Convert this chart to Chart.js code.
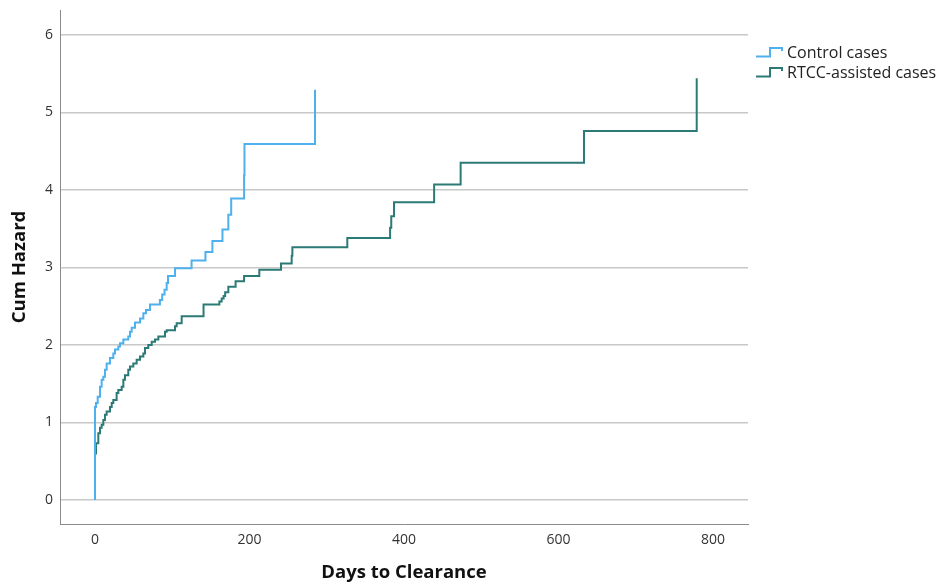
<!DOCTYPE html>
<html><head><meta charset="utf-8">
<script src="https://cdn.jsdelivr.net/npm/chart.js@4/dist/chart.umd.min.js"></script>
<style>
html,body{margin:0;padding:0;background:#fff;}
#wrap{position:relative;width:947px;height:584px;}
#legend{position:absolute;left:755px;top:42px;font-family:'Open Sans',sans-serif;font-size:16px;color:#222;}
.item{display:flex;align-items:center;height:20px;white-space:nowrap;}
.item svg{margin-right:3px;}
</style></head><body>
<div id="wrap"><canvas id="c" width="947" height="584"></canvas><div id="legend"></div></div>
<script>
const seriesNames = ['Control cases', 'RTCC-assisted cases'];
const seriesColors = ['#4eb1ee', '#2b7a75'];
const controlDays = [0, 0, 1.3, 3.5, 6.5, 8.6, 10.8, 12.9, 15.1, 19.4, 23.7, 25.9, 30.2, 32.4, 36.7, 43.1, 45.3, 47.5, 51.8, 58.3, 62.6, 66, 71.2, 84, 87, 90, 92.8, 94.5, 103.6, 125, 143, 152, 165, 172.6, 176.3, 193, 193.5, 284.8];
const controlHazard = [0, 1.20, 1.25, 1.33, 1.46, 1.55, 1.59, 1.68, 1.76, 1.83, 1.89, 1.94, 1.98, 2.02, 2.07, 2.11, 2.17, 2.22, 2.29, 2.34, 2.41, 2.45, 2.52, 2.58, 2.65, 2.71, 2.80, 2.89, 2.99, 3.09, 3.20, 3.34, 3.49, 3.68, 3.89, 4.19, 4.59, 5.29];
const rtccDays = [0, 0, 1.3, 4.3, 6.5, 8.6, 10.8, 12.9, 15.1, 19.4, 21.6, 23.7, 28.0, 30.2, 34.5, 36.7, 38.8, 43.1, 45.3, 49.6, 53.9, 58.3, 62.6, 64.7, 69.0, 73.4, 77.7, 82.0, 90.6, 92.8, 103.6, 105.7, 112.2, 140.5, 161, 164, 166.5, 168.5, 172.6, 182, 193, 212.7, 240.8, 254.6, 255.5, 326.6, 382, 383.5, 387.1, 439, 473.3, 633, 778.9];
const rtccHazard = [0, 0.60, 0.73, 0.86, 0.93, 0.97, 1.03, 1.10, 1.14, 1.20, 1.25, 1.29, 1.38, 1.42, 1.46, 1.55, 1.61, 1.68, 1.72, 1.76, 1.81, 1.85, 1.89, 1.96, 2.00, 2.04, 2.07, 2.11, 2.17, 2.19, 2.24, 2.28, 2.37, 2.52, 2.56, 2.60, 2.63, 2.68, 2.75, 2.82, 2.89, 2.97, 3.05, 3.15, 3.26, 3.38, 3.51, 3.66, 3.84, 4.07, 4.35, 4.76, 5.44];
const xTicks = [0, 200, 400, 600, 800];
const yTicks = [0, 1, 2, 3, 4, 5, 6];

const toPoints = (xs, ys) => xs.map((x, i) => ({x: x, y: ys[i]}));

const legendEl = document.getElementById('legend');
seriesNames.forEach((name, i) => {
  const d = document.createElement('div');
  d.className = 'item';
  d.innerHTML = '<svg width="29" height="12"><path d="M1 10.5 H15 V2 H27 V5" fill="none" stroke="' + seriesColors[i] + '" stroke-width="2"/></svg>';
  const s = document.createElement('span');
  s.textContent = name;
  d.appendChild(s);
  legendEl.appendChild(d);
});

new Chart(document.getElementById('c'), {
  type: 'line',
  data: {
    datasets: [
      {label: seriesNames[0], data: toPoints(controlDays, controlHazard), borderColor: seriesColors[0], borderWidth: 2, stepped: true, pointRadius: 0, fill: false},
      {label: seriesNames[1], data: toPoints(rtccDays, rtccHazard), borderColor: seriesColors[1], borderWidth: 2, stepped: true, pointRadius: 0, fill: false}
    ]
  },
  options: {
    responsive: false,
    animation: false,
    layout: {padding: {top: 10, right: 199, left: 0, bottom: 0}},
    plugins: {legend: {display: false}, tooltip: {enabled: false}},
    scales: {
      x: {
        type: 'linear', min: -45.3, max: 845.3,
        afterBuildTicks: s => { s.ticks = xTicks.map(v => ({value: v})); },
        afterFit: s => { s.height = 60; s.paddingLeft = 0; s.paddingRight = 0; },
        grid: {display: false, drawTicks: false},
        border: {display: true, color: '#8a8a8a', width: 1},
        ticks: {color: '#333', font: {family: 'Open Sans', size: 14}, padding: 8, maxRotation: 0},
        title: {display: true, text: 'Days to Clearance', color: '#111', font: {family: 'Open Sans', size: 18.5, weight: 'bold'}, padding: {top: 0, bottom: 0}}
      },
      y: {
        type: 'linear', min: -0.31, max: 6.32,
        afterBuildTicks: s => { s.ticks = yTicks.map(v => ({value: v})); },
        afterFit: s => { s.width = 60; s.paddingTop = 0; s.paddingBottom = 0; },
        grid: {color: '#c8c8c8', lineWidth: 1.5, drawTicks: false},
        border: {display: true, color: '#8a8a8a', width: 1},
        ticks: {color: '#333', font: {family: 'Open Sans', size: 14}, padding: 7},
        title: {display: true, text: 'Cum Hazard', color: '#111', font: {family: 'Open Sans', size: 18.5, weight: 'bold'}, padding: {top: 9, bottom: 0}}
      }
    }
  }
});
</script>
</body></html>
